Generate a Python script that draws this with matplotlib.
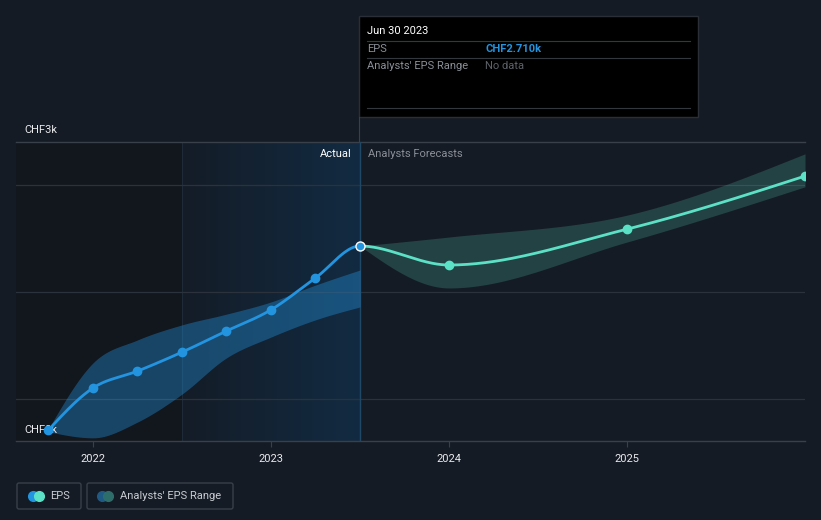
import numpy as np
import matplotlib
matplotlib.use("Agg")
import matplotlib.pyplot as plt
from matplotlib.patches import FancyBboxPatch, Rectangle
from matplotlib.colors import LinearSegmentedColormap

plt.rcParams['font.family'] = ['Roboto', 'DejaVu Sans']

# ---------------- data ----------------
eps_dates = [2021.75, 2022.0, 2022.25, 2022.5, 2022.75, 2023.0, 2023.25, 2023.5]
eps_vals = [2.197, 2.314, 2.361, 2.414, 2.473, 2.532, 2.621, 2.710]
past_hi = [2.200, 2.384, 2.448, 2.490, 2.520, 2.554, 2.601, 2.643]
past_lo = [2.192, 2.175, 2.219, 2.297, 2.398, 2.456, 2.504, 2.540]

fc_dates = [2023.5, 2024.0, 2025.0, 2026.0]
fc_vals = [2.710, 2.657, 2.757, 2.905]
fc_hi = [2.710, 2.735, 2.796, 2.967]
fc_lo = [2.710, 2.593, 2.721, 2.875]

year_ticks = [2022, 2023, 2024, 2025]
year_labels = ["2022", "2023", "2024", "2025"]
grid_vals = [2.283, 2.582, 2.880]
y_top_label = "CHF3k"
y_bot_label = "CHF2k"

# ---------------- helpers ----------------
def monotone(xs, ys, n=60):
    x = np.asarray(xs, float); y = np.asarray(ys, float)
    h = np.diff(x); s = np.diff(y) / h
    t = np.zeros_like(y)
    for i in range(1, len(x) - 1):
        p = (s[i - 1] * h[i] + s[i] * h[i - 1]) / (h[i - 1] + h[i])
        t[i] = (np.sign(s[i - 1]) + np.sign(s[i])) * min(abs(s[i - 1]), abs(s[i]), 0.5 * abs(p))
    t[0] = (3 * s[0] - t[1]) / 2 if len(x) > 2 else s[0]
    t[-1] = (3 * s[-1] - t[-2]) / 2 if len(x) > 2 else s[-1]
    X, Y = [], []
    for i in range(len(x) - 1):
        u = np.linspace(0, 1, n)
        h00 = 2 * u**3 - 3 * u**2 + 1; h10 = u**3 - 2 * u**2 + u
        h01 = -2 * u**3 + 3 * u**2; h11 = u**3 - u**2
        X.append(x[i] + u * h[i])
        Y.append(h00 * y[i] + h10 * h[i] * t[i] + h01 * y[i + 1] + h11 * h[i] * t[i + 1])
    return np.concatenate(X), np.concatenate(Y)

# ---------------- figure ----------------
BG = '#151b24'
W, H = 821, 520
fig = plt.figure(figsize=(W / 100, H / 100), dpi=100, facecolor=BG)

ax_l, ax_r, ax_t, ax_b = 16, 805, 142, 441
ax = fig.add_axes([ax_l / W, 1 - ax_b / H, (ax_r - ax_l) / W, (ax_b - ax_t) / H])
ax.set_facecolor(BG)

xmin = 2022 - 77 / 178.0
xmax = 2026.0
ymax = 3.0
ymin = 3.0 - 299 / 358.6
ax.set_xlim(xmin, xmax)
ax.set_ylim(ymin, ymax)

# background regions
ax.axvspan(xmin, 2022.5, color='#12161d', zorder=0, lw=0)
grad = np.linspace(0, 1, 256).reshape(1, -1)
cmap = LinearSegmentedColormap.from_list('g', ['#141c27', '#122b42'])
ax.imshow(grad, extent=[2022.5, 2023.5, ymin, ymax], aspect='auto', cmap=cmap, zorder=0.5)
ax.axvline(2022.5, color='#1e2a38', lw=0.8, zorder=1)

# grid
for g in grid_vals:
    ax.axhline(g, color='#2c323c', lw=0.9, zorder=1)
ax.axhline(ymax, color='#3a404a', lw=1.0, zorder=1, clip_on=False)

# bands
bx, bh = monotone(eps_dates, past_hi)
_, bl = monotone(eps_dates, past_lo)
ax.fill_between(bx, bl, bh, color='#2394df', alpha=0.38, lw=0, zorder=2)
fx, fh = monotone(fc_dates, fc_hi)
_, fl = monotone(fc_dates, fc_lo)
ax.fill_between(fx, fl, fh, color='#5ce0c6', alpha=0.2, lw=0, zorder=2)

# y labels
ax.text(xmin + 8 / 178.0, ymax + 12 / 358.6, y_top_label, color='#e8eaed', fontsize=8,
        va='center', ha='left', zorder=3, clip_on=False)
ax.text(xmin + 8 / 178.0, ymin + 11 / 358.6, y_bot_label, color='#e8eaed', fontsize=8,
        va='center', ha='left', zorder=3)

# lines: one smooth curve through actual + forecast, split at the last actual
all_dates = eps_dates + fc_dates[1:]
all_vals = eps_vals + fc_vals[1:]
cx, cy = monotone(all_dates, all_vals)
split = eps_dates[-1]
m_act = cx <= split + 1e-9
m_fc = cx >= split - 1e-9
ax.plot(cx[m_act], cy[m_act], color='#2394df', lw=2.0, zorder=4, solid_capstyle='round')
ax.plot(eps_dates[:-1], eps_vals[:-1], 'o', color='#2394df', ms=6, zorder=5)
ax.plot(cx[m_fc], cy[m_fc], color='#5ce0c6', lw=2.0, zorder=4, solid_capstyle='round')
ax.plot(fc_dates[1:], fc_vals[1:], 'o', color='#5ce0c6', ms=6, zorder=5)
ax.plot([eps_dates[-1]], [eps_vals[-1]], 'o', color='#2394df', ms=6.5, mec='white', mew=1.0, zorder=6)

# divider
ax.axvline(2023.5, color='#1f4766', lw=1.0, zorder=1.5)
ax.text(2023.5 - 8 / 178.0, ymax - 12 / 358.6, 'Actual', color='#ffffff', fontsize=8,
        ha='right', va='center', zorder=3)
ax.text(2023.5 + 8 / 178.0, ymax - 12 / 358.6, 'Analysts Forecasts', color='#8a8f98', fontsize=8,
        ha='left', va='center', zorder=3)

# x axis
for s in ['top', 'right', 'left']:
    ax.spines[s].set_visible(False)
ax.spines['bottom'].set_color('#3a404a')
ax.spines['bottom'].set_linewidth(1.0)
ax.set_yticks([])
ax.set_xticks(year_ticks)
ax.set_xticklabels(year_labels)
ax.tick_params(axis='x', colors='#3a404a', labelcolor='#e8eaed', labelsize=8, length=4, width=0.8, pad=5)

# overlay for tooltip and legend (pixel coordinates)
ov = fig.add_axes([0, 0, 1, 1])
ov.set_xlim(0, W); ov.set_ylim(H, 0); ov.axis('off'); ov.patch.set_alpha(0)

ov.plot([359, 359], [117, 142], color='#3a404a', lw=0.8)
ov.add_patch(Rectangle((359, 16), 339, 101, facecolor='#000000', edgecolor='#2a2f37', lw=1))
ov.text(367, 31, 'Jun 30 2023', color='#ffffff', fontsize=8, va='center')
for yy in [41, 58, 108]:
    ov.plot([367, 690], [yy, yy], color='#33373e', lw=0.8)
ov.text(367, 49, 'EPS', color='#8a8f98', fontsize=8, va='center')
ov.text(485, 49, 'CHF2.710k', color='#2394df', fontsize=8, va='center', fontweight='bold')
ov.text(367, 66, "Analysts' EPS Range", color='#8a8f98', fontsize=8, va='center')
ov.text(485, 66, 'No data', color='#5d626a', fontsize=8, va='center')

# legend
ov.add_patch(FancyBboxPatch((17, 483), 64, 26, boxstyle='round,pad=0,rounding_size=2',
                            facecolor='none', edgecolor='#3a404a', lw=1))
ov.plot([33], [496], 'o', color='#2394df', ms=7)
ov.plot([39], [496], 'o', color='#5ce0c6', ms=7)
ov.text(50, 496, 'EPS', color='#c8ccd2', fontsize=8, va='center')
ov.add_patch(FancyBboxPatch((87, 483), 146, 26, boxstyle='round,pad=0,rounding_size=2',
                            facecolor='none', edgecolor='#3a404a', lw=1))
ov.plot([102], [496], 'o', color='#1f5a85', ms=7)
ov.plot([108], [496], 'o', color='#2e6e6a', ms=7)
ov.text(120, 496, "Analysts' EPS Range", color='#c8ccd2', fontsize=8, va='center')

fig.savefig('out.png', dpi=100, facecolor=BG)
